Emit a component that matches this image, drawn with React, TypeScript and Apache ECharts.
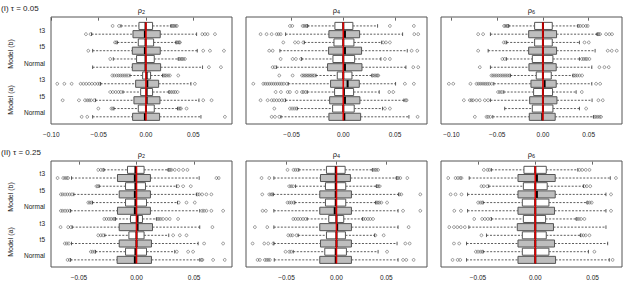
import React, { useEffect, useRef } from "react";
import * as echarts from "echarts";

const FONT = "'Liberation Sans', Arial, Helvetica, sans-serif";

// ---------- texts ----------
const rowHeadings = ["(I) \u03c4 = 0.05", "(II) \u03c4 = 0.25"];
const panelTitleSymbol = "\u03c1";
const panelTitleIndex = ["2", "4", "6"];
const groupLabels = ["Model (b)", "Model (a)"];
const rowLabels = ["t3", "t5", "Normal", "t3", "t5", "Normal"];
const rowLabelPositions = [1.5, 3.5, 5.5, 7.5, 9.5, 11.5];
const boxPositions = [1, 2, 3, 4, 5, 6, 7, 8, 9, 10, 11, 12];
const boxIsGray = [0, 1, 0, 1, 0, 1, 0, 1, 0, 1, 0, 1];
const xTickValues = [-0.1, -0.05, 0, 0.05];
const xRanges = [
  [-0.1003, 0.0909],
  [-0.0941, 0.081],
  [-0.1114, 0.0864],
  [-0.0742, 0.0829],
  [-0.0906, 0.0907],
  [-0.0823, 0.0757],
];
const yRange = [-0.08, 12.87];
const refValue = 0;
const refSpan = [0.55, 12.45];

// ---------- box statistics [lowWhisker, Q1, median, Q3, highWhisker] ----------
const p1Stats = [
  [-0.0264, -0.0074, -0.0004, 0.007, 0.0264],
  [-0.0574, -0.0137, -0.0011, 0.0151, 0.0535],
  [-0.0303, -0.0081, -0.0004, 0.0081, 0.0317],
  [-0.0563, -0.0144, -0.0011, 0.0151, 0.0542],
  [-0.0345, -0.0099, -0.0004, 0.0088, 0.0341],
  [-0.0563, -0.0144, -0.0004, 0.0155, 0.0598],
  [-0.0169, -0.0035, 0.0007, 0.0049, 0.0176],
  [-0.0479, -0.0109, 0.0014, 0.0134, 0.0475],
  [-0.0243, -0.0056, 0.0007, 0.007, 0.0243],
  [-0.0532, -0.0127, 0.0007, 0.0148, 0.056],
  [-0.0338, -0.0081, 0.0, 0.0088, 0.0334],
  [-0.0563, -0.0141, -0.0011, 0.0144, 0.0581],
];
const p1Out = [
  [-0.0352, -0.0285, 0.0271, 0.0285, 0.0299, 0.0313, 0.0327],
  [-0.0634, -0.0585, 0.0595, 0.0623, 0.0651, 0.0729],
  [-0.0327, -0.0312, 0.0324, 0.0338, 0.0352, 0.0359],
  [-0.0609, 0.0605, 0.0676, 0.0824],
  [-0.0377, 0.0352, 0.0366, 0.038, 0.0395, 0.0412],
  [0.0665, 0.0792],
  [-0.0356, -0.0335, -0.031, -0.029, -0.027, -0.025, -0.023, -0.021, -0.019, 0.0185, 0.02, 0.0215, 0.0235, 0.0253, 0.0341],
  [-0.0937, -0.0862, -0.0785, -0.069, -0.066, -0.063, -0.06, -0.057, -0.054, -0.051, -0.0488, 0.0517],
  [-0.0377, -0.035, -0.032, -0.029, -0.0265, 0.025, 0.027, 0.029, 0.031, 0.0334],
  [-0.088, -0.0708, -0.0644, -0.062, -0.06, -0.058, -0.0545, 0.0605, 0.0693],
  [-0.0503, -0.0365, -0.035, 0.0345, 0.0358, 0.037, 0.0429],
  [-0.0679, -0.062, 0.0834],
];

const p2Stats = [
  [-0.0345, -0.0081, 0.0, 0.0093, 0.0332],
  [-0.0558, -0.0139, 0.0016, 0.0158, 0.0574],
  [-0.0377, -0.009, 0.0, 0.0103, 0.0371],
  [-0.0613, -0.0142, 0.0016, 0.0177, 0.0619],
  [-0.0403, -0.01, 0.0, 0.011, 0.0364],
  [-0.0645, -0.0152, 0.0016, 0.0181, 0.0606],
  [-0.0264, -0.0058, 0.0, 0.0084, 0.0277],
  [-0.0532, -0.0123, 0.0042, 0.0155, 0.0506],
  [-0.0348, -0.0084, 0.0006, 0.01, 0.0348],
  [-0.0558, -0.0132, 0.0016, 0.0161, 0.0587],
  [-0.0445, -0.0103, 0.0, 0.0106, 0.038],
  [-0.0603, -0.0139, 0.001, 0.0168, 0.0635],
];
const p2Out = [
  [-0.0516, -0.0493, -0.0393, -0.0378, -0.0363, -0.035, 0.0451, 0.0683],
  [-0.08, -0.0742, -0.0693, -0.0645, -0.0625, -0.0605, 0.0687, 0.0725],
  [-0.058, -0.0467, -0.0435, -0.0387, 0.0387, 0.0413, 0.0451],
  [-0.0716, -0.0683, 0.0661, 0.0716],
  [-0.0606, -0.049, -0.0458, -0.0409, 0.0403, 0.0451],
  [-0.0683, -0.0661, 0.0677, 0.0725],
  [-0.0619, -0.049, -0.04, -0.0385, -0.037, -0.0355, -0.034, -0.0325, -0.031, -0.0295, -0.028, 0.0284, 0.03, 0.0315, 0.033, 0.0339],
  [-0.087, -0.0774, -0.0755, -0.0735, -0.0715, -0.0695, -0.0675, -0.0655, -0.0635, -0.0615, -0.0595, -0.0575, -0.0548, 0.0596, 0.0683],
  [-0.0654, -0.0603, -0.0538, -0.0516, -0.0451, -0.04, -0.0385, -0.0365, 0.0445, 0.0484],
  [-0.08, -0.0732, -0.0693, -0.067, -0.0645, -0.062, -0.0595, -0.057, 0.0603, 0.0613],
  [-0.0667, -0.0516, -0.0495, -0.0475, -0.0455, 0.0403, 0.0451],
  [-0.0693, -0.0661, -0.0619, 0.0719],
];

const p3Stats = [
  [-0.0374, -0.0091, 0.0, 0.0102, 0.0381],
  [-0.0574, -0.0156, 0.0, 0.0149, 0.0592],
  [-0.0396, -0.0091, 0.0, 0.0102, 0.0399],
  [-0.0599, -0.0156, 0.0, 0.0149, 0.057],
  [-0.0399, -0.0116, 0.0, 0.0109, 0.0399],
  [-0.0574, -0.0153, 0.0, 0.0145, 0.0534],
  [-0.0356, -0.0073, 0.0, 0.0091, 0.0327],
  [-0.0537, -0.0131, 0.0018, 0.0145, 0.0534],
  [-0.0428, -0.0102, 0.0, 0.0105, 0.0363],
  [-0.0574, -0.0145, 0.0, 0.0153, 0.0537],
  [-0.0418, -0.0116, 0.0, 0.0109, 0.0399],
  [-0.0548, -0.0149, -0.0007, 0.0134, 0.0552],
];
const p3Out = [
  [-0.0425, -0.041, -0.0395, -0.0382, 0.039, 0.041, 0.044, 0.047, 0.049],
  [-0.0708, -0.0654, 0.0599, 0.061, 0.0625, 0.069, 0.0726, 0.0755],
  [-0.0428, -0.0407, 0.0454, 0.0501],
  [-0.0708, 0.0708, 0.0752, 0.0806],
  [-0.0443, -0.0418, 0.0425, 0.0445, 0.0465, 0.048, 0.0508],
  [-0.069, 0.0617, 0.0672, 0.0719],
  [-0.0563, -0.0545, -0.0525, -0.0505, -0.0485, -0.0465, -0.0445, -0.0425, -0.0405, -0.0385, -0.0365, 0.0338, 0.0355, 0.0375, 0.04, 0.0428],
  [-0.1028, -0.098, -0.0792, -0.0726, -0.0705, -0.0685, -0.0665, -0.0645, -0.0625, -0.0605, -0.0585, -0.056, 0.0581, 0.0625],
  [-0.049, -0.047, -0.045, 0.0425],
  [-0.0864, -0.0799, -0.078, -0.0763, -0.0726, -0.069, -0.0635, -0.06, 0.0606, 0.0654],
  [0.0472],
  [-0.0744, -0.0617, -0.06, -0.0575, 0.0563, 0.058, 0.06, 0.062, 0.0635],
];

const p4Stats = [
  [-0.0283, -0.0078, -0.0009, 0.0066, 0.0275],
  [-0.0564, -0.0165, -0.0014, 0.0121, 0.0544],
  [-0.0324, -0.0095, -0.0009, 0.0078, 0.0347],
  [-0.0544, -0.015, -0.0014, 0.0121, 0.052],
  [-0.0382, -0.0095, -0.0009, 0.0087, 0.0356],
  [-0.0572, -0.0165, -0.0014, 0.0121, 0.0549],
  [-0.0182, -0.0052, 0.0009, 0.0052, 0.0173],
  [-0.0558, -0.015, 0.0009, 0.0139, 0.0549],
  [-0.0275, -0.0066, 0.0, 0.0066, 0.028],
  [-0.0564, -0.015, 0.0, 0.013, 0.0535],
  [-0.0356, -0.0095, -0.0009, 0.0087, 0.0332],
  [-0.0572, -0.0168, -0.0014, 0.013, 0.0549],
];
const p4Out = [
  [-0.0332, -0.0309, -0.0289, 0.028, 0.0292, 0.0304, 0.0332, 0.0367, 0.0405, 0.0442],
  [-0.0685, -0.0636, -0.062, -0.0605, -0.0593, 0.0694, 0.0714],
  [-0.0347, -0.0335, 0.0361, 0.0405, 0.0471],
  [-0.0656, -0.064, -0.062, -0.06, -0.058, -0.056, 0.053, 0.0545, 0.057, 0.0607, 0.065],
  [-0.0419, -0.0405, -0.039, 0.0367, 0.0434, 0.0506],
  [-0.0656, -0.064, -0.062, -0.06, -0.058, 0.057, 0.0585, 0.0607, 0.065, 0.0752],
  [-0.028, -0.026, -0.024, -0.022, -0.02, -0.0188, 0.0182, 0.0195, 0.021, 0.0231, 0.026, 0.0289, 0.0361],
  [-0.0659, -0.0593, -0.057, 0.0659],
  [-0.0332, -0.031, -0.029, 0.0318, 0.0376, 0.0434],
  [-0.0622, -0.0605, -0.0587, 0.0587, 0.0752],
  [-0.0396, -0.038, -0.0361, 0.035, 0.0448, 0.0491],
  [-0.0598, -0.0578, 0.0564, 0.0572, 0.0665, 0.0766],
];

const p5Stats = [
  [-0.0377, -0.01, -0.0007, 0.0087, 0.036],
  [-0.0627, -0.016, -0.0007, 0.014, 0.06],
  [-0.041, -0.011, -0.0007, 0.0093, 0.04],
  [-0.0633, -0.0167, -0.0007, 0.015, 0.0623],
  [-0.0417, -0.011, -0.0007, 0.0093, 0.0393],
  [-0.0627, -0.0167, -0.0017, 0.015, 0.0617],
  [-0.0293, -0.0077, 0.0, 0.0073, 0.026],
  [-0.0627, -0.0167, 0.0007, 0.015, 0.0617],
  [-0.0383, -0.01, 0.0, 0.009, 0.0383],
  [-0.0627, -0.016, 0.0, 0.015, 0.0607],
  [-0.0433, -0.0117, -0.0007, 0.01, 0.0417],
  [-0.0623, -0.0167, -0.0007, 0.015, 0.0617],
];
const p5Out = [
  [-0.049, -0.043, -0.041, -0.039, 0.0367, 0.0385, 0.04, 0.0417],
  [-0.075, -0.0673, 0.0607, 0.062, 0.064, 0.071],
  [-0.0473, -0.0455, -0.0435, 0.0407, 0.042, 0.0433],
  [-0.0743, -0.0673, -0.0655, -0.064, 0.063, 0.065, 0.084],
  [-0.049, -0.047, -0.045, -0.0427, 0.04, 0.0415, 0.043, 0.045, 0.0507],
  [-0.074, -0.0707, 0.0667, 0.084],
  [-0.0433, -0.041, -0.0385, -0.036, -0.0335, -0.031, 0.0267, 0.029, 0.0315, 0.034, 0.0367],
  [-0.0817, -0.0693, 0.0723],
  [-0.0483, -0.046, -0.044, -0.04, 0.039, 0.0473],
  [-0.084, -0.0723, -0.0683, -0.0633, 0.069, 0.0733],
  [-0.051, -0.0473, -0.0455, 0.0507],
  [-0.079, -0.0767, -0.0717, -0.07, -0.0683, -0.0667, 0.0667, 0.07, 0.0773],
];

const p6Stats = [
  [-0.0383, -0.0099, 0.0, 0.0096, 0.0371],
  [-0.0577, -0.0151, 0.0014, 0.0174, 0.0655],
  [-0.0406, -0.0104, 0.0, 0.0104, 0.042],
  [-0.0591, -0.0151, 0.0014, 0.0174, 0.0617],
  [-0.0455, -0.0113, 0.0, 0.0119, 0.0452],
  [-0.0591, -0.0151, 0.0, 0.0168, 0.0617],
  [-0.0383, -0.0104, 0.0, 0.009, 0.0357],
  [-0.058, -0.0157, 0.0, 0.0159, 0.0617],
  [-0.0426, -0.0113, 0.0, 0.0096, 0.0394],
  [-0.06, -0.0151, 0.0, 0.0168, 0.0632],
  [-0.0455, -0.0113, 0.0, 0.0119, 0.0464],
  [-0.06, -0.0151, 0.0, 0.0177, 0.0646],
];
const p6Out = [
  [-0.0449, -0.0417, -0.04, 0.0386, 0.041, 0.044, 0.0473],
  [-0.076, -0.0696, -0.0675, -0.0655, -0.0644, 0.0704],
  [-0.047, -0.045, -0.042, 0.0429, 0.045, 0.048],
  [-0.0739, -0.0696, -0.0644, 0.0661],
  [-0.0499, -0.048, -0.0464, 0.0458, 0.0475, 0.0493],
  [-0.0707, -0.0649, 0.0661],
  [-0.0533, -0.0464, -0.044, -0.0415, -0.039, 0.0365, 0.038, 0.04, 0.0429],
  [-0.0751, -0.071, -0.068, -0.065, -0.0615],
  [-0.047, 0.04, 0.042, 0.044, 0.0473],
  [-0.071, -0.0664],
  [-0.0519, -0.05, -0.048, -0.0464, 0.0516],
  [-0.0722, -0.0678, -0.0655, 0.0675],
];

const panelStats = [p1Stats, p2Stats, p3Stats, p4Stats, p5Stats, p6Stats];
const panelOut = [p1Out, p2Out, p3Out, p4Out, p5Out, p6Out];

// ---------- layout ----------
const GRID_LEFT = [51, 246, 441];
const GRID_W = 181;
const GRID_TOP = [17, 161];
const GRID_H = [107, 106];
const TITLE_Y = [10, 154];
const HEAD_Y = [8.5, 152.5];
const GROUP_Y = [
  [54, 100],
  [197, 242],
];
const BOX_WEX = 0.86;
const INK = "#222222";

function fmtTick(v: number): string {
  if (Math.abs(v) < 1e-9) return "0.00";
  return (v < 0 ? "\u2212" : "") + Math.abs(v).toFixed(2);
}

function renderBox(_params: any, api: any) {
  const pos = api.value(0);
  const lo = api.value(1);
  const q1 = api.value(2);
  const med = api.value(3);
  const q3 = api.value(4);
  const hi = api.value(5);
  const gray = api.value(6);
  const yc = api.coord([med, pos])[1];
  const bh = api.size([0, BOX_WEX])[1];
  const xlo = api.coord([lo, pos])[0];
  const xq1 = api.coord([q1, pos])[0];
  const xmed = api.coord([med, pos])[0];
  const xq3 = api.coord([q3, pos])[0];
  const xhi = api.coord([hi, pos])[0];
  const whisk = { stroke: "#333", lineWidth: 0.8, lineDash: [2, 1.5] };
  const cap = { stroke: "#333", lineWidth: 0.8 };
  return {
    type: "group",
    children: [
      { type: "line", shape: { x1: xlo, y1: yc, x2: xq1, y2: yc }, style: whisk },
      { type: "line", shape: { x1: xq3, y1: yc, x2: xhi, y2: yc }, style: whisk },
      { type: "line", shape: { x1: xlo, y1: yc - bh * 0.25, x2: xlo, y2: yc + bh * 0.25 }, style: cap },
      { type: "line", shape: { x1: xhi, y1: yc - bh * 0.25, x2: xhi, y2: yc + bh * 0.25 }, style: cap },
      {
        type: "rect",
        shape: { x: xq1, y: yc - bh / 2, width: xq3 - xq1, height: bh },
        style: { fill: gray ? "#bebebe" : "#ffffff", stroke: "#555", lineWidth: 1 },
      },
      { type: "line", shape: { x1: xmed, y1: yc - bh / 2, x2: xmed, y2: yc + bh / 2 }, style: { stroke: "#000", lineWidth: 2 } },
    ],
  };
}

function textEl(x: number, y: number, text: string, size: number, align: string, extra: any = {}) {
  return {
    type: "text",
    x,
    y,
    silent: true,
    ...extra,
    style: {
      text,
      fontSize: size,
      fontFamily: FONT,
      fill: INK,
      align,
      verticalAlign: "middle",
      ...(extra.style || {}),
    },
  };
}

function buildOption() {
  const grid: any[] = [];
  const xAxis: any[] = [];
  const yAxis: any[] = [];
  const series: any[] = [];
  const graphic: any[] = [];

  for (let i = 0; i < 6; i++) {
    const col = i % 3;
    const row = Math.floor(i / 3);
    const [mn, mx] = xRanges[i];
    const ticks = xTickValues.filter((v) => v >= mn && v <= mx);
    grid.push({
      left: GRID_LEFT[col],
      top: GRID_TOP[row],
      width: GRID_W,
      height: GRID_H[row],
      show: true,
      borderColor: "#555",
      borderWidth: 1,
      backgroundColor: "transparent",
    });
    xAxis.push({
      gridIndex: i,
      type: "value",
      min: mn,
      max: mx,
      splitLine: { show: false },
      axisLine: { show: false },
      axisTick: { show: true, customValues: ticks, length: 3, lineStyle: { color: "#444", width: 0.8 } },
      axisLabel: {
        show: true,
        customValues: ticks,
        formatter: (v: number) => fmtTick(v),
        fontSize: 6.5,
        fontFamily: FONT,
        color: INK,
        margin: 7,
      },
    });
    yAxis.push({
      gridIndex: i,
      type: "value",
      inverse: true,
      min: yRange[0],
      max: yRange[1],
      splitLine: { show: false },
      axisLine: { show: false },
      axisTick: { show: true, customValues: boxPositions, length: 2.5, lineStyle: { color: "#444", width: 0.8 } },
      axisLabel: {
        show: col === 0,
        customValues: rowLabelPositions,
        formatter: (v: number) => {
          let best = 0;
          rowLabelPositions.forEach((p, k) => {
            if (Math.abs(p - v) < Math.abs(rowLabelPositions[best] - v)) best = k;
          });
          return rowLabels[best];
        },
        fontSize: 6.5,
        fontFamily: FONT,
        color: INK,
        margin: 6,
      },
    });

    const stats = panelStats[i];
    const outs = panelOut[i];
    const boxData = stats.map((s, k) => [boxPositions[k], s[0], s[1], s[2], s[3], s[4], boxIsGray[k]]);
    const outData: number[][] = [];
    outs.forEach((arr, k) => arr.forEach((v) => outData.push([v, boxPositions[k]])));

    series.push({
      type: "scatter",
      xAxisIndex: i,
      yAxisIndex: i,
      data: outData,
      symbol: "circle",
      symbolSize: 2.8,
      itemStyle: { color: "rgba(255,255,255,0)", borderColor: "#333", borderWidth: 0.6 },
      silent: true,
      z: 2,
    });
    series.push({
      type: "custom",
      xAxisIndex: i,
      yAxisIndex: i,
      data: boxData,
      encode: { x: [1, 2, 3, 4, 5], y: 0 },
      renderItem: renderBox,
      silent: true,
      z: 3,
    });
    series.push({
      type: "line",
      xAxisIndex: i,
      yAxisIndex: i,
      data: [
        [refValue, refSpan[0]],
        [refValue, refSpan[1]],
      ],
      symbol: "none",
      lineStyle: { color: "#e00000", width: 1.6 },
      silent: true,
      z: 4,
    });

    graphic.push(
      textEl(GRID_LEFT[col] + GRID_W / 2, TITLE_Y[row], "{a|" + panelTitleSymbol + "}{b|" + panelTitleIndex[col] + "}", 7.5, "center", {
        style: {
          rich: {
            a: { fontSize: 7.5, fontFamily: FONT, fill: INK, color: INK, lineHeight: 10 },
            b: { fontSize: 5.5, fontFamily: FONT, fill: INK, color: INK, lineHeight: 10, verticalAlign: "bottom" },
          },
        },
      })
    );
  }

  for (let r = 0; r < 2; r++) {
    graphic.push(textEl(1, HEAD_Y[r], rowHeadings[r], 8, "left"));
    for (let g = 0; g < 2; g++) {
      graphic.push(textEl(10, GROUP_Y[r][g], groupLabels[g], 7, "center", { rotation: Math.PI / 2 }));
    }
  }

  return {
    animation: false,
    backgroundColor: "#ffffff",
    grid,
    xAxis,
    yAxis,
    series,
    graphic,
  };
}

export default function App() {
  const ref = useRef<HTMLDivElement>(null);
  useEffect(() => {
    if (!ref.current) return;
    const chart = echarts.init(ref.current, undefined, { renderer: "svg" });
    chart.setOption(buildOption() as any);
    return () => chart.dispose();
  }, []);
  return (
    <div
      ref={ref}
      style={{ position: "absolute", left: 0, top: 0, width: 630, height: 287, background: "#fff" }}
    />
  );
}
